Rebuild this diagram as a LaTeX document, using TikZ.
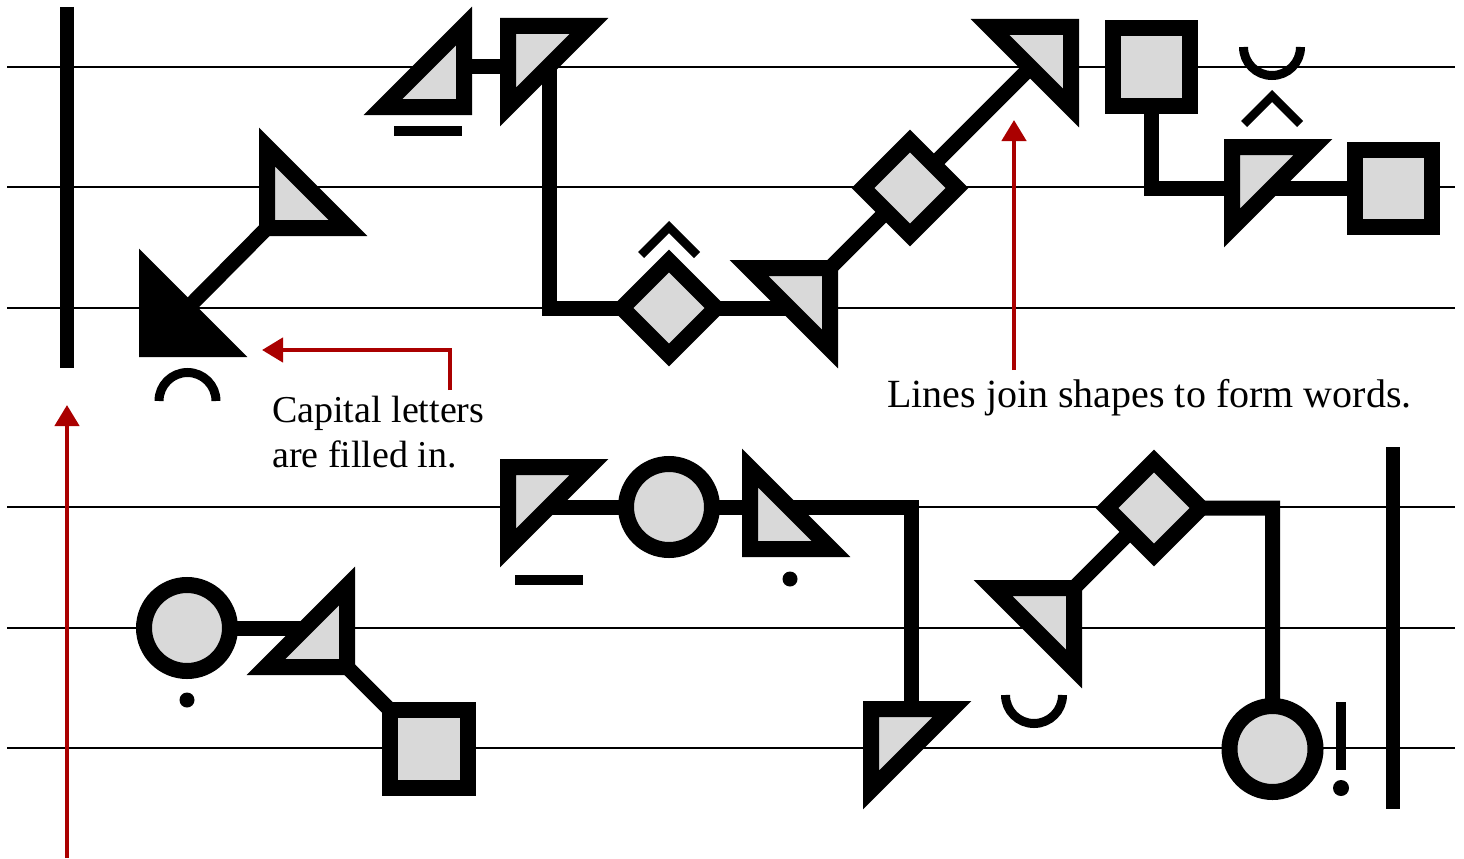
\documentclass[tikz,border=0pt]{standalone}
\usepackage{fontspec}
\setmainfont{Liberation Serif}
\usetikzlibrary{calc,arrows.meta}
\definecolor{shapegrey}{RGB}{217,217,217}
\definecolor{annot}{RGB}{170,0,0}
\tikzset{
  glyph/.style={draw=black, fill=shapegrey, line width=16pt, line join=miter, miter limit=10},
  capglyph/.style={glyph, fill=black},
  conn/.style={draw=black, line width=15pt, line join=miter},
  staffline/.style={draw=black, line width=1.5pt},
  barline/.style={draw=black, line width=14.5pt},
  diacritic/.style={draw=black, line width=8.5pt, line join=miter},
  note/.style={draw=annot, line width=4.5pt, -{Triangle[length=21pt,width=24pt]}},
  textnote/.style={inner sep=0pt, text=black},
}
% right-isosceles triangle: right-angle corner at #2, legs #3 (horizontal) and #4 (vertical)
\newcommand\gtri[4][]{\draw[glyph,#1] (#2) -- ($(#2)+(#3,0)$) -- ($(#2)+(0,#4)$) -- cycle;}
\newcommand\gdia[1]{\draw[glyph] ($(#1)+(-47,0)$) -- ($(#1)+(0,-47)$) -- ($(#1)+(47,0)$) -- ($(#1)+(0,47)$) -- cycle;}
\newcommand\gsq[2]{\draw[glyph] ($(#1)+(-#2,-#2)$) rectangle ($(#1)+(#2,#2)$);}
\begin{document}
\begin{tikzpicture}[x=1pt,y=-1pt]
\useasboundingbox (0,0) rectangle (1464,859);
\fill[white] (0,0) rectangle (1464,859);

% staff lines
\foreach \yy in {67,187,308,507,628,748}
  \draw[staffline] (7,\yy) -- (1455,\yy);

% bar lines
\coordinate (barLtop) at (67,7);   \coordinate (barLbot) at (67,368);
\coordinate (barRtop) at (1393,447); \coordinate (barRbot) at (1393,809);
\draw[barline] (barLtop) -- (barLbot);
\draw[barline] (barRtop) -- (barRbot);

% ---------- shape positions ----------
% top staff
\coordinate (T1) at (147,349);
\coordinate (T2) at (267,228);
\coordinate (T3) at (464,107);
\coordinate (T4) at (508,26);
\coordinate (D1) at (669,308);
\coordinate (T5) at (830,268);
\coordinate (D2) at (910,188);
\coordinate (T6) at (1071,27);
\coordinate (S1) at (1151.5,67);
\coordinate (T7) at (1232,147);
\coordinate (S2) at (1393,188);
% bottom staff
\coordinate (K1) at (187,628);
\coordinate (T8) at (347,667);
\coordinate (S3) at (429,749);
\coordinate (T9) at (508,467);
\coordinate (K2) at (669,507);
\coordinate (T10) at (750,549);
\coordinate (T11) at (871,709);
\coordinate (T12) at (1074,588);
\coordinate (D3) at (1154,508);
\coordinate (K3) at (1272.5,749);

% connector helper points (inside shapes)
\coordinate (T3in) at (450,67);
\coordinate (T4in) at (520,67);
\coordinate (T4stem) at (549,50);
\coordinate (T11in) at (911,725);

% ---------- connectors ----------
\draw[conn] (T2) -- (T1);
\draw[conn] (T3in) -- (T4in);
\draw[conn] (T4stem) |- (D1) -- (T5 |- D1);
\draw[conn] (T5) -- (D2) -- (T6);
\draw[conn] (S1) |- (S2);
\draw[conn] (K1) -- (T8 |- K1);
\draw[conn] (T8) -- (S3);
\draw[conn] (T9 |- K2) -- (K2) -| (T11in);
\draw[conn] (T12) -- (D3) -| (K3);

% ---------- shapes ----------
\gtri[capglyph]{T1}{81}{-81}
\gtri{T2}{81}{-81}
\gtri{T3}{-81}{-81}
\gtri{T4}{81}{81}
\gdia{D1}
\gtri{T5}{-81}{81}
\gdia{D2}
\gtri{T6}{-81}{81}
\gsq{S1}{38.5}
\gtri{T7}{81}{81}
\gsq{S2}{38.5}

\draw[glyph] (K1) circle[radius=43];
\gtri{T8}{-81}{-81}
\gsq{S3}{39}
\gtri{T9}{81}{81}
\draw[glyph] (K2) circle[radius=43];
\gtri{T10}{81}{-81}
\gtri{T11}{81}{81}
\gtri{T12}{-81}{81}
\gdia{D3}
\draw[glyph] (K3) circle[radius=43];

% ---------- diacritics ----------
\coordinate (B1) at (187.5,401);
\coordinate (B2) at (1272,47);
\coordinate (B3) at (1034,695);
\draw[diacritic, line width=9pt] ($(B1)+(-28.5,0)$) arc[start angle=180, end angle=360, radius=28.5];
\draw[diacritic, line width=9pt] ($(B2)+(-28.5,0)$) arc[start angle=180, end angle=0, radius=28.5];
\draw[diacritic, line width=9pt] ($(B3)+(-28.5,0)$) arc[start angle=180, end angle=0, radius=28.5];

\coordinate (C1) at (669,227);
\coordinate (C2) at (1272,96);
\draw[diacritic] ($(C1)+(-28,28)$) -- (C1) -- ($(C1)+(28,28)$);
\draw[diacritic] ($(C2)+(-28,28)$) -- (C2) -- ($(C2)+(28,28)$);

\coordinate (M1) at (394,126);
\coordinate (M2) at (515,575);
\fill[black] (M1) rectangle ++(68,10);
\fill[black] (M2) rectangle ++(68,10);

\coordinate (P1) at (187,700);
\coordinate (P2) at (790,579);
\fill[black] (P1) circle[radius=7.5];
\fill[black] (P2) circle[radius=7.5];

% exclamation mark
\coordinate (EX) at (1336,702);
\coordinate (EXdot) at (1341,788);
\fill[black] (EX) rectangle ++(10,68);
\fill[black] (EXdot) circle[radius=8];

% ---------- annotations ----------
\node[textnote, anchor=base west, align=left, font=\fontsize{38}{45}\selectfont] (cap) at (272,467) {Capital letters\\are filled in.};
\node[textnote, anchor=base west, font=\fontsize{40}{48}\selectfont] (lines) at (887,407) {Lines join shapes to form words.};

\coordinate (A1s) at (450,390);
\coordinate (A1e) at (262,350);
\coordinate (A2s) at (1014,370);
\coordinate (A2e) at (1014,120);
\coordinate (A3s) at (67,858);
\coordinate (A3e) at (67,405);
\draw[note] (A1s) |- (A1e);
\draw[note] (A2s) -- (A2e);
\draw[note] (A3s) -- (A3e);
\end{tikzpicture}
\end{document}
